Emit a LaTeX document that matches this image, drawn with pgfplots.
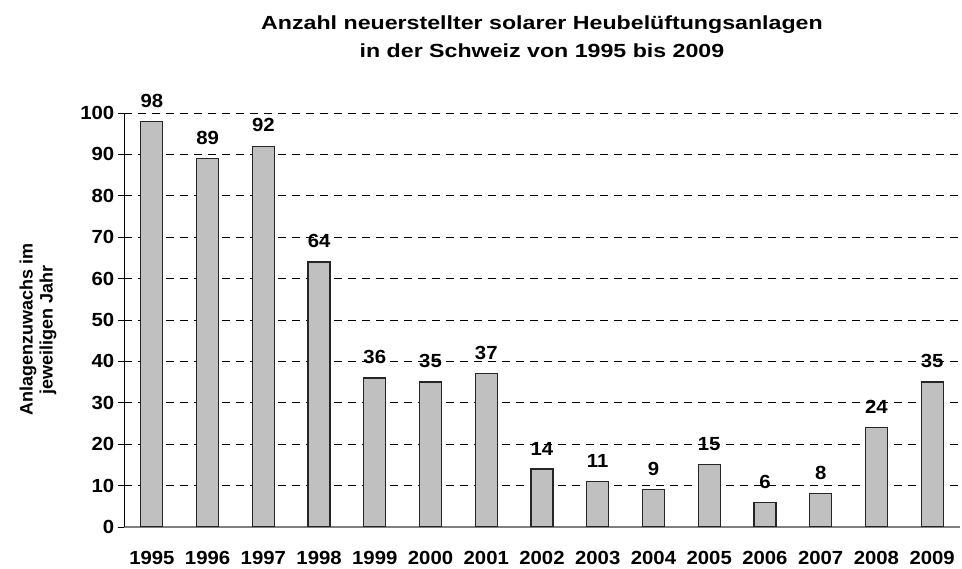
\documentclass[border=0pt]{standalone}
\usepackage{fontspec}
\setmainfont{Liberation Sans}
\usepackage{pgfplots}
\pgfplotsset{compat=1.18}
\definecolor{barfill}{HTML}{C0C0C0}
\definecolor{bardraw}{HTML}{262626}
\begin{document}
\begin{tikzpicture}
\begin{axis}[
  scale only axis, width=836pt, height=414pt,
  ybar, bar width=22pt,
  xmin=-0.5, xmax=14.5, ymin=0, ymax=100,
  xtick=data,
  xticklabels={1995,1996,1997,1998,1999,2000,2001,2002,2003,2004,2005,2006,2007,2008,2009},
  ytick={0,10,...,100},
  axis x line*=bottom, axis y line*=left,
  x axis line style={draw=gray, line width=1.2pt},
  y axis line style={draw=black, line width=0.8pt},
  xtick style={draw=none},
  ytick style={draw=black, line width=0.8pt},
  tick align=outside, major tick length=6pt,
  ymajorgrids, grid style={black, line width=0.8pt, dash pattern=on 8pt off 6pt},
  /pgf/number format/assume math mode=true,
  ticklabel style={font=\bfseries\fontsize{19}{20}\selectfont, xscale=1.07},
  xticklabel style={yshift=-15pt},
  nodes near coords,
  every node near coord/.append style={font=\bfseries\fontsize{19}{20}\selectfont, xscale=1.07, yshift=10pt},
  title={Anzahl neuerstellter solarer Heubelüftungsanlagen\\in der Schweiz von 1995 bis 2009},
  title style={align=center, font=\bfseries\fontsize{19}{28}\selectfont, xscale=1.22, anchor=south, at={(axis description cs:0.5,1)}, yshift=46pt},
  ylabel={Anlagenzuwachs im\\jeweiligen Jahr},
  ylabel style={align=center, font=\bfseries\fontsize{18}{20}\selectfont, at={(axis description cs:-0.103,0.476)}, anchor=center},
]
\addplot[fill=barfill, draw=bardraw, line width=1.2pt] coordinates {
(0,98) (1,89) (2,92) (3,64) (4,36) (5,35) (6,37) (7,14) (8,11) (9,9) (10,15) (11,6) (12,8) (13,24) (14,35)};
\end{axis}
\path (-124pt,-40pt) rectangle (838pt,527pt);
\end{tikzpicture}
\end{document}
